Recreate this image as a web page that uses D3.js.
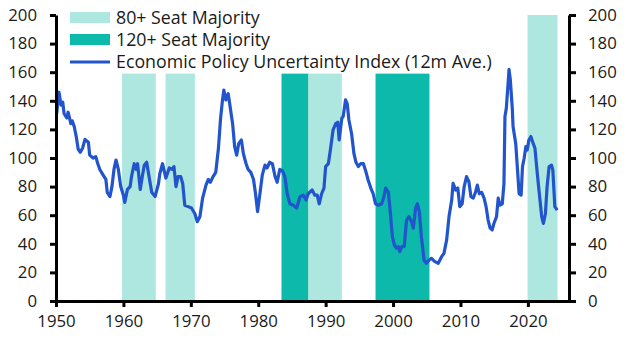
<!DOCTYPE html>
<html>
<head>
<meta charset="utf-8">
<script src="https://cdn.jsdelivr.net/npm/d3@7"></script>
<style>
  body { margin: 0; background: #fff; }
  svg text { font-family: "Open Sans", "Noto Sans", sans-serif; fill: #1a1a1a; }
  .axis path, .axis line { stroke: #000; stroke-width: 3; }
  .axis text { font-size: 16.8px; }
</style>
</head>
<body>
<script>
const width = 630
const height = 354
const margin = { top: 15, bottom: 53, left: 56, right: 61 }

// EPU index, 12m average
const years = [
  1950.1, 1950.45, 1950.74, 1951.0, 1951.2, 1951.6, 1951.8, 1952.2, 1952.4, 1952.7,
  1953.0, 1953.3, 1953.6, 1953.95, 1954.3, 1954.8, 1955.0, 1955.5, 1955.9, 1956.2,
  1956.5, 1957.0, 1957.4, 1957.6, 1958.0, 1958.3, 1958.6, 1958.9, 1959.25, 1959.6,
  1960.0, 1960.2, 1960.6, 1961.0, 1961.2, 1961.6, 1961.9, 1962.1, 1962.5, 1962.8,
  1963.1, 1963.45, 1963.8, 1964.2, 1964.7, 1965.2, 1965.4, 1965.8, 1966.3, 1966.8,
  1967.2, 1967.5, 1967.8, 1968.1, 1968.5, 1968.8, 1969.1, 1969.6, 1970.1, 1970.6,
  1970.95, 1971.35, 1971.75, 1972.25, 1972.6, 1972.9, 1973.3, 1973.7, 1974.1, 1974.4,
  1974.7, 1974.9, 1975.2, 1975.55, 1975.9, 1976.2, 1976.5, 1976.8, 1977.1, 1977.5,
  1977.8, 1978.2, 1978.5, 1978.9, 1979.3, 1979.6, 1979.9, 1980.25, 1980.6, 1981.0,
  1981.3, 1981.7, 1982.1, 1982.5, 1982.8, 1983.2, 1983.6, 1983.95, 1984.3, 1984.7,
  1985.2, 1985.7, 1986.2, 1986.7, 1987.1, 1987.4, 1988.0, 1988.4, 1988.75, 1989.05,
  1989.4, 1989.75, 1990.0, 1990.4, 1990.7, 1991.1, 1991.5, 1991.8, 1992.0, 1992.4,
  1992.6, 1992.95, 1993.2, 1993.45, 1993.85, 1994.2, 1994.5, 1994.85, 1995.2, 1995.6,
  1996.0, 1996.3, 1996.7, 1997.05, 1997.4, 1997.8, 1998.3, 1998.6, 1998.9, 1999.3,
  1999.5, 1999.9, 2000.2, 2000.5, 2000.8, 2001.0, 2001.3, 2001.65, 2002.0, 2002.35,
  2002.75, 2003.0, 2003.35, 2003.6, 2003.9, 2004.2, 2004.6, 2004.95, 2005.35, 2005.7,
  2006.2, 2006.7, 2007.2, 2007.55, 2007.95, 2008.3, 2008.7, 2008.9, 2009.3, 2009.6,
  2009.9, 2010.25, 2010.55, 2010.9, 2011.25, 2011.55, 2011.9, 2012.25, 2012.5, 2012.8,
  2013.15, 2013.5, 2013.8, 2014.1, 2014.4, 2014.7, 2014.95, 2015.35, 2015.6, 2015.85,
  2016.2, 2016.45, 2016.6, 2016.8, 2017.1, 2017.2, 2017.4, 2017.7, 2017.8, 2018.2,
  2018.5, 2018.7, 2019.0, 2019.2, 2019.45, 2019.7, 2019.9, 2020.15, 2020.45, 2020.7,
  2021.05, 2021.4, 2021.7, 2022.05, 2022.3, 2022.6, 2022.85, 2023.15, 2023.5, 2023.7,
  2024.0, 2024.35
]
const epu = [
  131, 146, 137, 139, 131, 128, 132, 124, 126, 122,
  115, 106, 104, 107, 113, 111, 102, 100, 101, 96,
  92, 88, 85, 76, 73, 80, 92, 98.6, 92, 80,
  74, 69, 78, 80, 87, 96, 92, 96, 78, 87,
  95, 97, 87, 76, 73, 82, 89, 96, 86, 93,
  92, 94, 80, 87, 87, 82, 67, 66, 65, 61,
  55.5, 59, 72, 81, 85, 83, 87, 90, 107, 127,
  140.6, 147.5, 140.6, 145, 133.6, 124, 108, 102, 110, 112.6,
  103, 96, 92, 90, 85, 75, 62.5, 75, 88, 95,
  93, 97, 96, 87, 83, 92, 91, 87, 75, 68,
  67, 65, 73, 74, 70.6, 75, 77.6, 74, 74, 68,
  75, 79, 94, 96, 105.6, 119.6, 124, 125, 112.6, 127.8,
  129, 140.6, 138, 126.6, 117, 103, 97, 94, 96, 96,
  90, 84.6, 79, 75, 68, 67, 68, 72, 79, 76,
  67, 45, 39, 37, 38, 34.5, 38, 38, 56.6, 59,
  55.5, 51, 65, 68, 62.5, 45, 28.7, 26.4, 28.7, 29.8,
  27.5, 26.4, 31, 33.3, 42.7, 59, 70.6, 82.3, 77.6, 79,
  66, 68, 80, 87, 83.4, 73, 72, 76.4, 81, 75,
  76, 72, 66, 56.6, 51, 49.7, 54, 59, 72, 67,
  68, 82, 129, 134.7, 154.5, 162, 154.5, 133.6, 122, 110,
  89, 75, 74, 94, 99.8, 108, 105.6, 112.6, 115, 111.4,
  106.8, 89, 75, 59, 54.3, 61, 80, 94, 95, 91.6,
  66, 63.6
]

// majority periods
const bandStart = [1959.8, 1966.25, 1983.45, 1987.45, 1997.4, 2019.95]
const bandEnd = [1964.8, 1970.6, 1987.45, 1992.4, 2005.4, 2024.4]
const bandType = ['80', '80', '120', '80', '120', '80']
const bandTop = [159, 159, 159, 159, 159, 200]

const xTicks = [1950, 1960, 1970, 1980, 1990, 2000, 2010, 2020]
const yTicks = [0, 20, 40, 60, 80, 100, 120, 140, 160, 180, 200]

const legendLabels = ['80+ Seat Majority', '120+ Seat Majority', 'Economic Policy Uncertainty Index (12m Ave.)']
const colors = { '80': '#ade7e0', '120': '#0cb9ab', line: '#2255cc' }

const svg = d3.select('body').append('svg')
  .attr('width', width)
  .attr('height', height)

const x = d3.scaleLinear()
  .domain([1950, 2026.1])
  .range([margin.left, width - margin.right])

const y = d3.scaleLinear()
  .domain([0, 200])
  .range([height - margin.bottom, margin.top])

//bands
svg.append('g')
  .selectAll('rect')
  .data(bandStart)
  .enter()
  .append('rect')
  .attr('x', (d) => x(d))
  .attr('width', (d, i) => x(bandEnd[i]) - x(d))
  .attr('y', (d, i) => y(bandTop[i]))
  .attr('height', (d, i) => y(0) - y(bandTop[i]))
  .attr('fill', (d, i) => colors[bandType[i]])

//line
const line = d3.line()
  .x((d, i) => x(years[i]))
  .y((d) => y(d))

svg.append('path')
  .datum(epu)
  .attr('d', line)
  .attr('fill', 'none')
  .attr('stroke', colors.line)
  .attr('stroke-width', 3.2)
  .attr('stroke-linejoin', 'round')

//axes
svg.append('g')
  .attr('class', 'axis')
  .attr('transform', `translate(0, ${y(0)})`)
  .call(d3.axisBottom(x).tickValues(xTicks).tickFormat(d3.format('d')).tickSize(6).tickSizeOuter(0).tickPadding(8))

svg.append('g')
  .attr('class', 'axis')
  .attr('transform', `translate(${x.range()[0]}, 0)`)
  .call(d3.axisLeft(y).tickValues(yTicks).tickSize(6).tickSizeOuter(0).tickPadding(13))

svg.append('g')
  .attr('class', 'axis')
  .attr('transform', `translate(${x.range()[1]}, 0)`)
  .call(d3.axisRight(y).tickValues(yTicks).tickSize(7).tickSizeOuter(0).tickPadding(12))

//legend
const legend = svg.append('g')
  .attr('transform', 'translate(70, 0)')

legend.selectAll('rect')
  .data(['80', '120'])
  .enter()
  .append('rect')
  .attr('x', 0)
  .attr('y', (d, i) => 12 + i * 22)
  .attr('width', 40)
  .attr('height', 11)
  .attr('fill', (d) => colors[d])

legend.append('line')
  .attr('x1', 0)
  .attr('x2', 40)
  .attr('y1', 62)
  .attr('y2', 62)
  .attr('stroke', colors.line)
  .attr('stroke-width', 3)

legend.selectAll('text')
  .data(legendLabels)
  .enter()
  .append('text')
  .attr('x', 46)
  .attr('y', (d, i) => 17.5 + i * 22.3)
  .attr('dy', '0.35em')
  .style('font-size', '17.8px')
  .text((d) => d)
</script>
</body>
</html>
